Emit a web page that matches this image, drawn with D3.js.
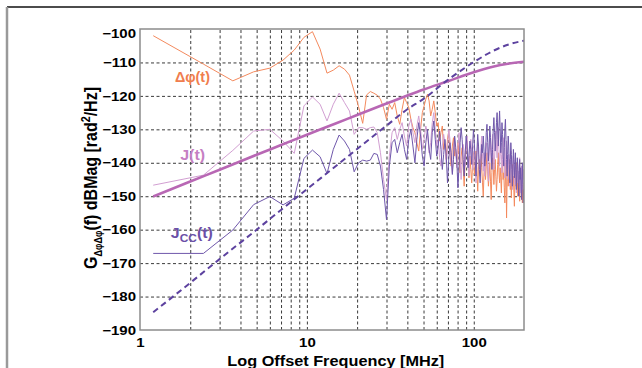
<!DOCTYPE html>
<html lang="en">
<head>
<meta charset="utf-8">
<title>Phase Noise PSD</title>
<script src="https://cdnjs.cloudflare.com/ajax/libs/d3/7.8.5/d3.min.js"></script>
<style>
body { margin: 0; background: #fff; }
text { font-family: "Liberation Sans", Arial, sans-serif; font-weight: bold; }
</style>
</head>
<body>
<script>

// FFT bins are spaced 1.2 MHz apart, first bin at 1.2 MHz
var binMHz = 1.2;

// delta phi(t) spectrum, dB
var dphi = [
	-102.0, -110.5, -115.5, -112.8, -111.7, -109.3, -106.3, -102.5, -100.8, -106.0,
	-113.2, -112.3, -111.0, -112.0, -113.8, -118.6, -123.2, -128.2, -119.7, -118.7,
	-119.2, -119.8, -121.0, -123.5, -127.0, -122.5, -124.0, -122.0, -126.0, -128.5,
	-124.0, -120.5, -122.0, -123.5, -127.0, -129.5, -131.0, -134.0, -136.5, -130.0,
	-125.0, -123.0, -121.0, -119.5, -121.5, -126.0, -124.0, -121.5, -125.0, -129.0,
	-128, -133.5, -131, -129, -136, -134.5, -139, -133, -130.5, -137,
	-141, -135, -132.5, -138, -136, -140.5, -134, -137.5, -143, -138,
	-135.5, -141, -147, -139, -136, -133.5, -140, -144.5, -138, -142,
	-146, -140.5, -137, -143.5, -141, -136.5, -142, -148.5, -141, -139,
	-144, -137.5, -141.5, -146, -150, -143, -139.5, -145, -141, -137,
	-142.5, -147, -144, -140, -145.5, -151, -143, -138.5, -141, -146.5,
	-142, -139, -144, -148.5, -145, -140.5, -137, -143, -146, -141.5,
	-144.5, -149, -142, -139.5, -145, -143, -147.5, -152, -144, -140,
	-156.5, -145.5, -141, -147, -144, -139, -142.5, -148, -145, -150.5,
	-143, -140.5, -146, -144, -149, -153, -145.5, -141, -147, -143.5,
	-140, -145, -150, -147, -142.5, -146, -151.5, -144, -148, -145,
	-141.5, -147, -152, -146, -149.5, -148
];

// J(t) spectrum, dB
var jt = [
	-146.7, -143.7, -136.3, -130.5, -130.0, -133.5, -137.2, -123.0, -120.3, -122.5,
	-127.5, -122.5, -119.2, -122.0, -124.5, -131.5, -129.5, -129.5, -130.0, -129.5,
	-129.3, -131.0, -137.0, -145.0, -151.0, -138, -131, -129.5, -133, -130,
	-128, -132, -135, -129, -127, -131, -134, -129, -126, -130,
	-136, -133, -129, -131, -137, -134, -128, -125, -130, -135,
	-133, -138.5, -141, -135, -131.5, -134, -140, -136.5, -130, -133,
	-139.5, -143, -136, -132.5, -137, -141.5, -135, -131, -138, -145,
	-139, -134.5, -137, -141, -136, -132, -139.5, -144, -138.5, -133,
	-136.5, -142, -139, -135, -140.5, -146, -138, -134, -137.5, -143,
	-140, -135.5, -132, -138, -142.5, -137, -144, -139.5, -134, -136,
	-141, -145.5, -138, -133, -135.5, -140, -136, -131.5, -137, -142,
	-139, -134, -130.5, -135, -138.5, -133, -129.5, -136, -141, -138,
	-134, -137.5, -143, -139, -135, -132.5, -138, -144.5, -140, -136,
	-133.5, -139, -145, -141, -137.5, -142, -147, -140, -136.5, -139,
	-144, -148, -141.5, -138, -143, -146.5, -142, -139, -144.5, -149,
	-143, -140, -146, -142.5, -147.5, -141, -138.5, -144, -149, -145,
	-141, -146.5, -143, -148, -142, -145
];

// Jcc(t) spectrum, dB
var jcc = [
	-167.1, -167.1, -160.1, -152.5, -150.1, -152.6, -150.6, -138.7, -136.2, -138.2,
	-143.2, -136.0, -131.7, -133.5, -136.0, -142.7, -140.0, -139.2, -139.5, -139.2,
	-137.2, -137.5, -141.0, -148.0, -157.0, -141, -134, -133, -137, -134,
	-131.5, -136, -139, -133, -130, -135, -140, -133, -128, -132,
	-138, -141, -134, -130, -136, -139, -131, -127.5, -133, -138,
	-135, -130.5, -136, -142, -137.5, -133, -138, -146, -139, -134,
	-137, -143.5, -139, -132, -135.5, -140, -147.5, -141, -134, -129.5,
	-133, -139, -144, -137.5, -132, -135, -141.5, -138, -133.5, -136,
	-140.5, -135, -130, -134, -139.5, -144, -137, -131.5, -135, -142,
	-146, -140, -134.5, -137, -132, -136.5, -141, -138, -131, -128.5,
	-134, -139.5, -135, -129, -132.5, -137, -142, -136, -130, -126.5,
	-131, -136.5, -133, -128, -125, -130.5, -135, -129, -124.5, -130,
	-137, -134, -128, -131.5, -138, -141, -135.5, -130, -127, -133,
	-139, -144, -137.5, -132, -135, -140.5, -146, -139, -134, -137.5,
	-142, -147, -140.5, -136, -139, -144.5, -141, -137, -143, -148,
	-142, -138.5, -141, -146, -150, -143.5, -139, -145, -141.5, -147,
	-151, -144, -140, -146.5, -152, -148
];

// model curves (thick solid and dashed)
var modelFreq = [1.2, 2, 3, 5, 7, 10, 15, 20, 30, 40, 50, 70, 100, 130, 160, 200];
var modelJ    = [-150.1, -145.6, -142.1, -137.6, -134.7, -131.6, -128.2, -125.7, -122.3, -119.9, -118.1, -115.6, -112.9, -111.3, -110.4, -109.8];
var modelJcc  = [-184.7, -175.9, -168.8, -160.0, -154.1, -147.9, -140.9, -135.9, -128.9, -124.0, -120.9, -115.2, -109.9, -106.6, -104.7, -103.5];

var xTicks = [1, 10, 100];
var xGrid = [2, 3, 4, 5, 6, 7, 8, 9, 10, 20, 30, 40, 50, 60, 70, 80, 90, 100];
var yTicks = [-100, -110, -120, -130, -140, -150, -160, -170, -180, -190];

var W = 642, H = 368;
var pLeft = 140, pRight = 524, pTop = 29, pBottom = 330;
var stretch = 1.2;

var svg = d3.select("body").append("svg")
	.attr("width", W)
	.attr("height", H);

// outer figure frame
svg.append("line")
	.attr("x1", 7).attr("y1", 7).attr("x2", W).attr("y2", 7)
	.attr("stroke", "#111").attr("stroke-width", 1.3);
svg.append("line")
	.attr("x1", 7).attr("y1", 7).attr("x2", 7).attr("y2", H)
	.attr("stroke", "#9a9a9a").attr("stroke-width", 2.5);

var x = d3.scaleLog().domain([1, 200]).range([pLeft, pRight]);
var y = d3.scaleLinear().domain([-190, -100]).range([pBottom, pTop]);

// dashed grid
var gx = svg.append("g")
	.attr("transform", "translate(0," + pBottom + ")")
	.call(d3.axisBottom(x).tickValues(xGrid).tickSize(-(pBottom - pTop)).tickFormat(""));
gx.select(".domain").remove();

var gy = svg.append("g")
	.attr("transform", "translate(" + pLeft + ",0)")
	.call(d3.axisLeft(y).tickValues(yTicks.slice(1, -1)).tickSize(-(pRight - pLeft)).tickFormat(""));
gy.select(".domain").remove();

svg.selectAll(".tick line")
	.attr("stroke", "#3a3a3a")
	.attr("stroke-width", 1)
	.attr("stroke-dasharray", "3,2.5");

svg.append("clipPath").attr("id", "plotclip")
	.append("rect")
	.attr("x", pLeft).attr("y", pTop)
	.attr("width", pRight - pLeft).attr("height", pBottom - pTop);

function toPoints(vals){
	return vals.map(function(v, i){
		return {f: binMHz * (i + 1), v: v};
	});
}

function modelPoints(vals){
	return vals.map(function(v, i){
		return {f: modelFreq[i], v: v};
	});
}

var line = d3.line()
	.x(function(d){ return x(d.f); })
	.y(function(d){ return y(d.v); });

var smooth = d3.line()
	.curve(d3.curveMonotoneX)
	.x(function(d){ return x(d.f); })
	.y(function(d){ return y(d.v); });

var plot = svg.append("g").attr("clip-path", "url(#plotclip)");

var series = [
	{name: "dphi", pts: toPoints(dphi), color: "#f48a5e", width: 1},
	{name: "jt", pts: toPoints(jt), color: "#d29fd2", width: 1},
	{name: "jcc", pts: toPoints(jcc), color: "#6f57ab", width: 1}
];

series.forEach(function(s){
	plot.append("path")
		.datum(s.pts)
		.attr("d", line)
		.attr("fill", "none")
		.attr("stroke", s.color)
		.attr("stroke-width", s.width)
		.attr("stroke-linejoin", "round");
});

plot.append("path")
	.datum(modelPoints(modelJ))
	.attr("d", smooth)
	.attr("fill", "none")
	.attr("stroke", "#b867b4")
	.attr("stroke-width", 2.6);

plot.append("path")
	.datum(modelPoints(modelJcc))
	.attr("d", smooth)
	.attr("fill", "none")
	.attr("stroke", "#5d429f")
	.attr("stroke-width", 2)
	.attr("stroke-dasharray", "6,4");

// plot box
svg.append("rect")
	.attr("x", pLeft).attr("y", pTop)
	.attr("width", pRight - pLeft).attr("height", pBottom - pTop)
	.attr("fill", "none")
	.attr("stroke", "#8c8c8c")
	.attr("stroke-width", 1.5);

function widen(sel){
	sel.each(function(){
		var w = this.getComputedTextLength();
		d3.select(this)
			.attr("textLength", w * stretch)
			.attr("lengthAdjust", "spacingAndGlyphs");
	});
}

// tick labels
var yAxis = svg.append("g")
	.attr("transform", "translate(" + pLeft + ",0)")
	.call(d3.axisLeft(y).tickValues(yTicks).tickSize(0).tickPadding(4));
yAxis.select(".domain").remove();
yAxis.attr("font-family", null).attr("font-size", 12.5);
yAxis.selectAll("text")
	.attr("fill", "#000")
	.attr("dy", function(d){ return d === -100 ? "0.69em" : "0.33em"; })
	.call(widen);

var xAxis = svg.append("g")
	.attr("transform", "translate(0," + pBottom + ")")
	.call(d3.axisBottom(x).tickValues(xTicks).tickSize(0).tickPadding(8).tickFormat(d3.format("d")));
xAxis.select(".domain").remove();
xAxis.attr("font-family", null).attr("font-size", 12.5);
xAxis.selectAll("text")
	.attr("fill", "#000")
	.call(widen);

// axis titles
svg.append("text")
	.attr("x", 335.8)
	.attr("y", 366)
	.attr("text-anchor", "middle")
	.attr("font-size", 14)
	.attr("textLength", 217)
	.attr("lengthAdjust", "spacingAndGlyphs")
	.text("Log Offset Frequency [MHz]");

var yl = svg.append("text")
	.attr("transform", "translate(97,178) scale(1.2,1) rotate(-90)")
	.attr("text-anchor", "middle")
	.attr("font-size", 15)
	.attr("textLength", 182)
	.attr("lengthAdjust", "spacingAndGlyphs");
yl.append("tspan").text("G");
yl.append("tspan").attr("font-size", 8.5).attr("dy", 4).text("ΔφΔφ");
yl.append("tspan").attr("dy", -4).text("(f) dBMag [rad");
yl.append("tspan").attr("font-size", 10).attr("dy", -6).text("2");
yl.append("tspan").attr("dy", 6).text("/Hz]");

// curve labels
var labels = [
	{f: 1.62, v: -115.85, color: "#f07d4e", len: 35},
	{f: 1.74, v: -139.2, color: "#c67fc3", len: 25},
	{f: 1.53, v: -162.35, color: "#6b50a7", len: 42}
];

svg.append("text")
	.attr("x", x(labels[0].f)).attr("y", y(labels[0].v))
	.attr("fill", labels[0].color).attr("font-size", 14)
	.attr("textLength", labels[0].len).attr("lengthAdjust", "spacingAndGlyphs")
	.text("Δφ(t)");

svg.append("text")
	.attr("x", x(labels[1].f)).attr("y", y(labels[1].v))
	.attr("fill", labels[1].color).attr("font-size", 14)
	.attr("textLength", labels[1].len).attr("lengthAdjust", "spacingAndGlyphs")
	.text("J(t)");

var lab2 = svg.append("text")
	.attr("x", x(labels[2].f)).attr("y", y(labels[2].v))
	.attr("fill", labels[2].color).attr("font-size", 14)
	.attr("textLength", labels[2].len).attr("lengthAdjust", "spacingAndGlyphs");
lab2.append("tspan").text("J");
lab2.append("tspan").attr("font-size", 10.5).attr("dy", 4.5).text("CC");
lab2.append("tspan").attr("dy", -4.5).text("(t)");

</script>
</body>
</html>
